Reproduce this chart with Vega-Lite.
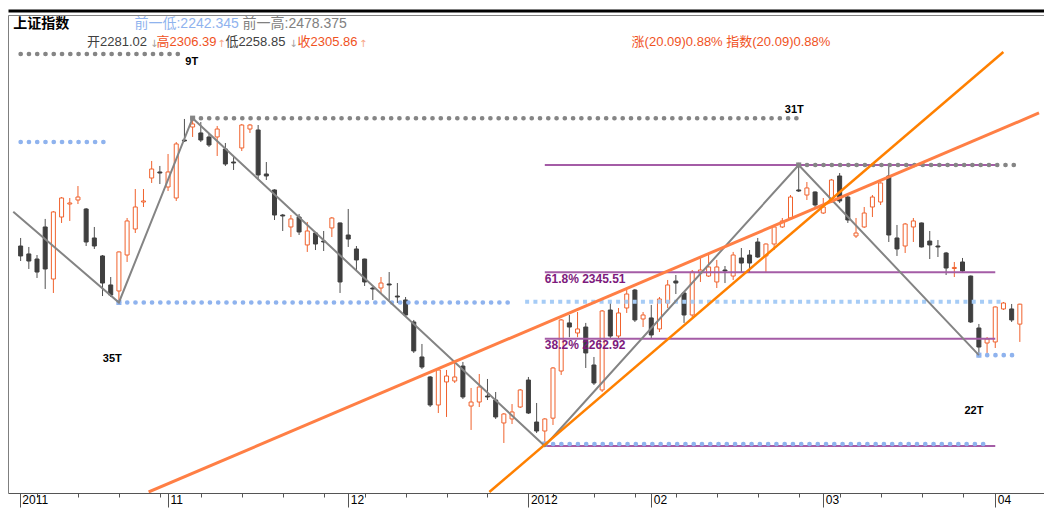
{
 "$schema": "https://vega.github.io/schema/vega-lite/v6.json",
 "width": 1036, "height": 478,
 "autosize": {"type": "none"},
 "padding": {"left": 8, "top": 15, "right": 0, "bottom": 15},
 "background": "#ffffff",
 "config": {"view": {"stroke": null}, "axis": {"grid": false}},
 "datasets": {
  "candles": [
   {"i":1,"o":2378.3,"h":2388.3,"l":2359.6,"c":2365.9},
   {"i":2,"o":2368.4,"h":2377.1,"l":2349.7,"c":2359.6},
   {"i":3,"o":2362.1,"h":2367.1,"l":2338.5,"c":2345.9},
   {"i":4,"o":2402.0,"h":2412.0,"l":2324.8,"c":2349.7},
   {"i":5,"o":2337.2,"h":2421.9,"l":2319.8,"c":2420.7},
   {"i":6,"o":2414.4,"h":2439.3,"l":2407.0,"c":2438.1},
   {"i":7,"o":2430.6,"h":2438.1,"l":2409.5,"c":2431.9},
   {"i":8,"o":2435.6,"h":2453.0,"l":2430.6,"c":2439.3},
   {"i":9,"o":2424.4,"h":2425.6,"l":2378.3,"c":2383.3},
   {"i":10,"o":2388.3,"h":2402.0,"l":2374.6,"c":2378.3},
   {"i":11,"o":2365.9,"h":2367.1,"l":2316.0,"c":2332.2},
   {"i":12,"o":2329.8,"h":2339.7,"l":2314.8,"c":2317.3},
   {"i":13,"o":2322.3,"h":2371.5,"l":2308.0,"c":2370.9},
   {"i":14,"o":2367.1,"h":2413.2,"l":2358.4,"c":2409.5},
   {"i":15,"o":2399.5,"h":2449.3,"l":2394.5,"c":2426.9},
   {"i":16,"o":2433.1,"h":2449.3,"l":2426.9,"c":2434.4},
   {"i":17,"o":2463.0,"h":2484.2,"l":2456.8,"c":2474.2},
   {"i":18,"o":2470.5,"h":2478.0,"l":2455.5,"c":2469.2},
   {"i":19,"o":2451.8,"h":2492.9,"l":2446.8,"c":2470.5},
   {"i":20,"o":2438.1,"h":2507.8,"l":2434.4,"c":2505.4},
   {"i":21,"o":2510.3,"h":2536.5,"l":2507.8,"c":2509.1},
   {"i":22,"o":2526.5,"h":2537.5,"l":2514.1,"c":2530.3},
   {"i":23,"o":2519.1,"h":2532.7,"l":2507.8,"c":2510.3},
   {"i":24,"o":2514.1,"h":2519.1,"l":2501.6,"c":2504.1},
   {"i":25,"o":2514.1,"h":2527.8,"l":2490.4,"c":2524.0},
   {"i":26,"o":2499.1,"h":2506.6,"l":2478.0,"c":2480.4},
   {"i":27,"o":2482.9,"h":2489.2,"l":2473.0,"c":2481.7},
   {"i":28,"o":2500.4,"h":2530.3,"l":2496.6,"c":2529.0},
   {"i":29,"o":2524.0,"h":2530.3,"l":2519.1,"c":2529.0},
   {"i":30,"o":2522.8,"h":2529.0,"l":2460.5,"c":2466.8},
   {"i":31,"o":2468.0,"h":2482.9,"l":2460.5,"c":2465.5},
   {"i":32,"o":2448.1,"h":2449.0,"l":2410.7,"c":2416.9},
   {"i":33,"o":2416.9,"h":2418.2,"l":2397.0,"c":2415.7},
   {"i":34,"o":2402.0,"h":2416.9,"l":2389.5,"c":2412.0},
   {"i":35,"o":2414.4,"h":2418.2,"l":2392.0,"c":2395.8},
   {"i":36,"o":2379.6,"h":2408.2,"l":2370.9,"c":2397.0},
   {"i":37,"o":2394.5,"h":2395.8,"l":2373.3,"c":2380.8},
   {"i":38,"o":2384.5,"h":2397.0,"l":2372.1,"c":2383.3},
   {"i":39,"o":2400.8,"h":2414.4,"l":2389.5,"c":2413.2},
   {"i":40,"o":2407.0,"h":2407.5,"l":2319.8,"c":2333.5},
   {"i":41,"o":2392.0,"h":2424.4,"l":2377.1,"c":2387.0},
   {"i":42,"o":2374.6,"h":2378.3,"l":2348.4,"c":2360.9},
   {"i":43,"o":2362.1,"h":2362.5,"l":2328.5,"c":2333.5},
   {"i":44,"o":2326.0,"h":2327.3,"l":2311.1,"c":2324.8},
   {"i":45,"o":2326.0,"h":2339.7,"l":2319.8,"c":2332.2},
   {"i":46,"o":2331.0,"h":2345.9,"l":2311.1,"c":2329.8},
   {"i":47,"o":2316.0,"h":2332.2,"l":2307.3,"c":2314.8},
   {"i":48,"o":2311.1,"h":2314.8,"l":2289.9,"c":2292.4},
   {"i":49,"o":2283.7,"h":2286.2,"l":2245.1,"c":2247.6},
   {"i":50,"o":2240.1,"h":2256.3,"l":2225.1,"c":2227.6},
   {"i":51,"o":2215.2,"h":2216.4,"l":2177.8,"c":2180.3},
   {"i":52,"o":2180.3,"h":2226.4,"l":2170.3,"c":2223.9},
   {"i":53,"o":2209.0,"h":2223.9,"l":2165.4,"c":2216.4},
   {"i":54,"o":2210.2,"h":2233.9,"l":2207.7,"c":2215.2},
   {"i":55,"o":2228.8,"h":2233.9,"l":2187.8,"c":2190.3},
   {"i":56,"o":2179.0,"h":2201.5,"l":2149.2,"c":2184.0},
   {"i":57,"o":2184.0,"h":2218.9,"l":2177.8,"c":2202.7},
   {"i":58,"o":2191.5,"h":2212.7,"l":2186.5,"c":2190.3},
   {"i":59,"o":2186.5,"h":2196.5,"l":2162.9,"c":2165.4},
   {"i":60,"o":2157.9,"h":2170.3,"l":2133.0,"c":2169.1},
   {"i":61,"o":2162.9,"h":2181.5,"l":2156.6,"c":2171.6},
   {"i":62,"o":2177.8,"h":2200.2,"l":2176.6,"c":2199.0},
   {"i":63,"o":2211.4,"h":2215.2,"l":2169.1,"c":2170.3},
   {"i":64,"o":2159.1,"h":2182.8,"l":2145.4,"c":2147.9},
   {"i":65,"o":2147.9,"h":2163.9,"l":2129.2,"c":2162.9},
   {"i":66,"o":2163.9,"h":2227.6,"l":2155.4,"c":2226.4},
   {"i":67,"o":2222.6,"h":2287.4,"l":2217.7,"c":2286.2},
   {"i":68,"o":2282.5,"h":2292.4,"l":2264.7,"c":2277.4},
   {"i":69,"o":2270.0,"h":2296.1,"l":2264.7,"c":2275.0},
   {"i":70,"o":2277.4,"h":2282.5,"l":2226.4,"c":2245.1},
   {"i":71,"o":2230.1,"h":2240.1,"l":2205.2,"c":2207.7},
   {"i":72,"o":2199.0,"h":2298.6,"l":2196.5,"c":2297.4},
   {"i":73,"o":2298.6,"h":2311.1,"l":2263.8,"c":2266.2},
   {"i":74,"o":2266.2,"h":2301.1,"l":2262.5,"c":2294.9},
   {"i":75,"o":2301.1,"h":2324.8,"l":2294.9,"c":2318.5},
   {"i":76,"o":2323.5,"h":2324.8,"l":2283.7,"c":2286.2},
   {"i":77,"o":2287.4,"h":2296.1,"l":2277.4,"c":2292.4},
   {"i":78,"o":2288.7,"h":2304.9,"l":2263.8,"c":2267.5},
   {"i":79,"o":2275.0,"h":2314.8,"l":2271.2,"c":2312.3},
   {"i":80,"o":2307.3,"h":2336.0,"l":2301.1,"c":2329.8},
   {"i":81,"o":2334.7,"h":2342.2,"l":2318.5,"c":2332.2},
   {"i":82,"o":2319.8,"h":2321.0,"l":2282.5,"c":2292.4},
   {"i":83,"o":2292.4,"h":2348.4,"l":2289.9,"c":2345.9},
   {"i":84,"o":2344.7,"h":2363.4,"l":2333.5,"c":2348.4},
   {"i":85,"o":2340.9,"h":2369.6,"l":2339.7,"c":2352.2},
   {"i":86,"o":2333.5,"h":2360.9,"l":2326.0,"c":2352.2},
   {"i":87,"o":2348.4,"h":2353.4,"l":2332.2,"c":2347.2},
   {"i":88,"o":2340.9,"h":2370.9,"l":2336.0,"c":2367.1},
   {"i":89,"o":2363.4,"h":2375.8,"l":2344.7,"c":2357.1},
   {"i":90,"o":2367.1,"h":2373.3,"l":2344.7,"c":2357.1},
   {"i":91,"o":2383.3,"h":2388.3,"l":2363.4,"c":2364.6},
   {"i":92,"o":2365.9,"h":2381.5,"l":2344.7,"c":2380.8},
   {"i":93,"o":2380.8,"h":2404.5,"l":2373.3,"c":2402.0},
   {"i":94,"o":2402.0,"h":2413.2,"l":2400.8,"c":2409.5},
   {"i":95,"o":2413.2,"h":2441.8,"l":2410.7,"c":2439.3},
   {"i":96,"o":2448.1,"h":2479.2,"l":2445.6,"c":2446.8},
   {"i":97,"o":2441.8,"h":2458.0,"l":2435.6,"c":2450.6},
   {"i":98,"o":2445.6,"h":2446.3,"l":2426.9,"c":2429.4},
   {"i":99,"o":2419.4,"h":2438.1,"l":2418.2,"c":2426.9},
   {"i":100,"o":2433.1,"h":2461.8,"l":2431.9,"c":2460.5},
   {"i":101,"o":2465.5,"h":2469.2,"l":2431.9,"c":2434.4},
   {"i":102,"o":2439.3,"h":2441.8,"l":2407.0,"c":2410.7},
   {"i":103,"o":2390.8,"h":2413.2,"l":2388.3,"c":2394.5},
   {"i":104,"o":2402.0,"h":2426.9,"l":2400.8,"c":2419.4},
   {"i":105,"o":2426.9,"h":2441.8,"l":2414.4,"c":2439.3},
   {"i":106,"o":2433.1,"h":2457.5,"l":2429.4,"c":2456.8},
   {"i":107,"o":2465.5,"h":2476.7,"l":2383.3,"c":2392.0},
   {"i":108,"o":2388.3,"h":2404.5,"l":2365.9,"c":2374.6},
   {"i":109,"o":2378.3,"h":2407.0,"l":2369.6,"c":2405.7},
   {"i":110,"o":2402.0,"h":2413.2,"l":2383.3,"c":2409.5},
   {"i":111,"o":2407.0,"h":2407.5,"l":2376.5,"c":2377.1},
   {"i":112,"o":2384.5,"h":2397.0,"l":2362.1,"c":2379.6},
   {"i":113,"o":2378.3,"h":2385.8,"l":2364.6,"c":2377.1},
   {"i":114,"o":2369.6,"h":2370.9,"l":2342.2,"c":2350.9},
   {"i":115,"o":2350.3,"h":2358.4,"l":2339.7,"c":2351.6},
   {"i":116,"o":2358.4,"h":2363.4,"l":2344.7,"c":2347.2},
   {"i":117,"o":2340.9,"h":2341.5,"l":2282.5,"c":2283.7},
   {"i":118,"o":2276.2,"h":2281.2,"l":2242.35,"c":2252.5},
   {"i":119,"o":2257.5,"h":2265.0,"l":2245.1,"c":2262.5},
   {"i":120,"o":2258.8,"h":2303.0,"l":2251.3,"c":2302.4},
   {"i":121,"o":2299.9,"h":2308.6,"l":2298.6,"c":2307.3},
   {"i":122,"o":2299.9,"h":2306.1,"l":2283.7,"c":2286.2},
   {"i":123,"o":2281.02,"h":2306.39,"l":2258.85,"c":2305.86}
  ],
  "dots": [
   {"k":"g","a":1,"b":21,"p":2617.4},
   {"k":"b","a":1,"b":12,"p":2507.8},
   {"k":"b","a":13,"b":61,"p":2308.0},
   {"k":"g","a":22,"b":96,"p":2537.5},
   {"k":"g","a":96,"b":123,"p":2479.2},
   {"k":"b","a":65,"b":119,"p":2131.7},
   {"k":"b","a":118,"b":123,"p":2242.35}
  ],
  "dash": [{"a":62.6,"b":120.9,"p":2308.9}],
  "pivots": [
   {"k":"g","i":22,"p":2537.5},
   {"k":"b","i":13,"p":2308.0},
   {"k":"g","i":96,"p":2479.2},
   {"k":"b","i":118,"p":2242.35},
   {"k":"b","i":65,"p":2131.7}
  ],
  "fib": [
   {"a":65,"b":120,"p":2479.2},
   {"a":65,"b":120,"p":2345.51},
   {"a":65,"b":120,"p":2262.92},
   {"a":65,"b":120,"p":2129.2}
  ],
  "lines": [
   {"s":"zig","i":0.1,"p":2421.0},
   {"s":"zig","i":13,"p":2308.0},
   {"s":"zig","i":22,"p":2537.5},
   {"s":"zig","i":65,"p":2129.2},
   {"s":"zig","i":96,"p":2479.2},
   {"s":"zig","i":118,"p":2242.35},
   {"s":"t1","i":16.63,"p":2071.95},
   {"s":"t1","i":125.34,"p":2543.96},
   {"s":"t2","i":58.23,"p":2071.95},
   {"s":"t2","i":120.99,"p":2619.93}
  ],
  "pivotText": [
   {"t":"9T","i":21.89,"p":2606.85},
   {"t":"35T","i":12.2,"p":2237.6},
   {"t":"31T","i":95.47,"p":2547.7},
   {"t":"22T","i":117.4,"p":2172.8}
  ],
  "fibText": [
   {"t":"61.8% 2345.51","i":65.0,"p":2336.6},
   {"t":"38.2% 2262.92","i":65.0,"p":2254.4}
  ],
  "header": [
   {"t":"开2281.02","k":"dn","i":9.1,"p":2632.4},
   {"t":"高2306.39","k":"up","i":17.6,"p":2632.4},
   {"t":"低2258.85","k":"dn","i":26.0,"p":2632.4},
   {"t":"收2305.86","k":"up","i":34.8,"p":2632.4},
   {"t":"涨(20.09)0.88% 指数(20.09)0.88%","k":"up","i":75.6,"p":2632.4}
  ],
  "header1": [
   {"t":"前一低:2242.345","k":"low","i":14.9,"p":2654.8},
   {"t":"前一高:2478.375","k":"high","i":28.1,"p":2654.8}
  ],
  "arrows": [
   {"t":"↓","k":"dn","i":16.8,"p":2630.5},
   {"t":"↑","k":"up","i":25.0,"p":2630.5},
   {"t":"↓","k":"dn","i":33.8,"p":2630.5},
   {"t":"↑","k":"up","i":42.3,"p":2630.5}
  ],
  "title": [{"t":"上证指数","i":0.1,"p":2654.8}]
 },
 "resolve": {"axis": {"x": "independent", "y": "independent"}},
 "layer": [
  {
   "data": {"name": "candles"},
   "mark": {"type": "rule", "strokeWidth": 1},
   "encoding": {
    "x": {"field": "i", "type": "quantitative",
     "scale": {"domain": [0.069, 125.34], "nice": false, "zero": false},
     "axis": {
      "values": [0.9,3,8,13,18,19,23,28,33,38,41,43,48,53,58,63,66,71,76,78,81,86,91,96,99,101,106,111,116,120],
      "labelExpr": "datum.value==0.9?'2011':datum.value==19?'11':datum.value==41?'12':datum.value==63?'2012':datum.value==78?'02':datum.value==99?'03':datum.value==120?'04':''",
      "tickSize": {"condition": {"test": "indexof([0.9,19,41,63,78,99,120], datum.value) >= 0", "value": 14}, "value": 4},
      "tickColor": "#555555", "domainColor": "#555555",
      "labelAlign": "left", "labelBaseline": "top", "labelPadding": -13, "labelOffset": 2,
      "labelFont": "Liberation Sans", "labelFontSize": 12, "labelColor": "#000000",
      "labelOverlap": false, "labelBound": false, "labelFlush": false, "grid": false, "title": null
     }},
    "y": {"field": "l", "type": "quantitative", "scale": {"domain": [2070.7, 2666.0], "nice": false, "zero": false},
     "axis": {"orient": "left", "domainColor": "#7f7f7f", "ticks": false, "labels": false, "grid": false, "title": null}},
    "y2": {"field": "h"},
    "color": {"condition": {"test": "datum.c >= datum.o", "value": "#f0622d"}, "value": "#505050"}
   }
  },
  {
   "data": {"name": "candles"},
   "mark": {"type": "bar", "width": 4, "strokeWidth": 1},
   "encoding": {
    "x": {"field": "i", "type": "quantitative",
     "axis": {"orient": "top", "domainColor": "#000000", "domainWidth": 3, "offset": 4.5, "ticks": false, "labels": false, "grid": false, "title": null}},
    "y": {"field": "o", "type": "quantitative", "axis": null},
    "y2": {"field": "c"},
    "fill": {"condition": {"test": "datum.c >= datum.o", "value": "#ffffff"}, "value": "#3f3f3f"},
    "stroke": {"condition": {"test": "datum.c >= datum.o", "value": "#f0622d"}, "value": "#3f3f3f"}
   }
  },
  {
   "data": {"name": "fib"},
   "mark": {"type": "rule", "strokeWidth": 2, "color": "#a45ca6"},
   "encoding": {
    "x": {"field": "a", "type": "quantitative",
     "axis": {"orient": "top", "domainColor": "#7f7f7f", "domainWidth": 1, "offset": 0, "ticks": false, "labels": false, "grid": false, "title": null}},
    "x2": {"field": "b"},
    "y": {"field": "p", "type": "quantitative", "axis": null}
   }
  },
  {
   "data": {"name": "dots"},
   "mark": {"type": "rule", "strokeWidth": 4.6, "strokeCap": "round", "strokeDash": [0.1, 8.17]},
   "encoding": {
    "x": {"field": "a", "type": "quantitative", "axis": null},
    "x2": {"field": "b"},
    "y": {"field": "p", "type": "quantitative", "axis": null},
    "color": {"condition": {"test": "datum.k == 'g'", "value": "#858585"}, "value": "#8fb3ee"}
   }
  },
  {
   "data": {"name": "dash"},
   "mark": {"type": "rule", "strokeWidth": 4, "strokeCap": "butt", "strokeDash": [4, 4.27], "color": "#a6ccf6"},
   "encoding": {
    "x": {"field": "a", "type": "quantitative", "axis": null},
    "x2": {"field": "b"},
    "y": {"field": "p", "type": "quantitative", "axis": null}
   }
  },
  {
   "data": {"name": "pivots"},
   "mark": {"type": "point", "shape": "square", "filled": true, "size": 26, "opacity": 1},
   "encoding": {
    "x": {"field": "i", "type": "quantitative", "axis": null},
    "y": {"field": "p", "type": "quantitative", "axis": null},
    "color": {"condition": {"test": "datum.k == 'g'", "value": "#858585"}, "value": "#8fb3ee"}
   }
  },
  {
   "data": {"name": "lines"},
   "transform": [{"filter": "datum.s == 'zig'"}],
   "mark": {"type": "line", "strokeWidth": 2, "color": "#848484", "clip": true},
   "encoding": {
    "x": {"field": "i", "type": "quantitative", "axis": null},
    "y": {"field": "p", "type": "quantitative", "axis": null}
   }
  },
  {
   "data": {"name": "lines"},
   "transform": [{"filter": "datum.s == 't1'"}],
   "mark": {"type": "line", "strokeWidth": 3, "color": "#ff7f45", "clip": true},
   "encoding": {
    "x": {"field": "i", "type": "quantitative", "axis": null},
    "y": {"field": "p", "type": "quantitative", "axis": null}
   }
  },
  {
   "data": {"name": "lines"},
   "transform": [{"filter": "datum.s == 't2'"}],
   "mark": {"type": "line", "strokeWidth": 2.5, "color": "#ff8000", "clip": true},
   "encoding": {
    "x": {"field": "i", "type": "quantitative", "axis": null},
    "y": {"field": "p", "type": "quantitative", "axis": null}
   }
  },
  {
   "data": {"name": "fibText"},
   "mark": {"type": "text", "align": "left", "baseline": "middle", "font": "Liberation Sans", "fontSize": 12, "fontWeight": "bold", "color": "#7d1a7d"},
   "encoding": {
    "x": {"field": "i", "type": "quantitative", "axis": null},
    "y": {"field": "p", "type": "quantitative", "axis": null},
    "text": {"field": "t"}
   }
  },
  {
   "data": {"name": "pivotText"},
   "mark": {"type": "text", "align": "center", "baseline": "middle", "font": "Liberation Sans", "fontSize": 11, "fontWeight": "bold", "color": "#000000"},
   "encoding": {
    "x": {"field": "i", "type": "quantitative", "axis": null},
    "y": {"field": "p", "type": "quantitative", "axis": null},
    "text": {"field": "t"}
   }
  },
  {
   "data": {"name": "header"},
   "mark": {"type": "text", "align": "left", "baseline": "middle", "font": "Liberation Sans, Noto Sans CJK SC", "fontSize": 13},
   "encoding": {
    "x": {"field": "i", "type": "quantitative", "axis": null},
    "y": {"field": "p", "type": "quantitative", "axis": null},
    "text": {"field": "t"},
    "color": {"condition": {"test": "datum.k == 'up'", "value": "#f0521e"}, "value": "#404040"}
   }
  },
  {
   "data": {"name": "header1"},
   "mark": {"type": "text", "align": "left", "baseline": "middle", "font": "Liberation Sans, Noto Sans CJK SC", "fontSize": 14},
   "encoding": {
    "x": {"field": "i", "type": "quantitative", "axis": null},
    "y": {"field": "p", "type": "quantitative", "axis": null},
    "text": {"field": "t"},
    "color": {"condition": {"test": "datum.k == 'low'", "value": "#8fb3ee"}, "value": "#808080"}
   }
  },
  {
   "data": {"name": "arrows"},
   "mark": {"type": "text", "align": "left", "baseline": "middle", "font": "DejaVu Sans", "fontSize": 10},
   "encoding": {
    "x": {"field": "i", "type": "quantitative", "axis": null},
    "y": {"field": "p", "type": "quantitative", "axis": null},
    "text": {"field": "t"},
    "color": {"condition": {"test": "datum.k == 'up'", "value": "#f7a585"}, "value": "#a0a0a0"}
   }
  },
  {
   "data": {"name": "title"},
   "mark": {"type": "text", "align": "left", "baseline": "middle", "font": "Noto Sans CJK SC", "fontSize": 14, "fontWeight": "bold", "color": "#000000"},
   "encoding": {
    "x": {"field": "i", "type": "quantitative", "axis": null},
    "y": {"field": "p", "type": "quantitative", "axis": null},
    "text": {"field": "t"}
   }
  }
 ]
}
